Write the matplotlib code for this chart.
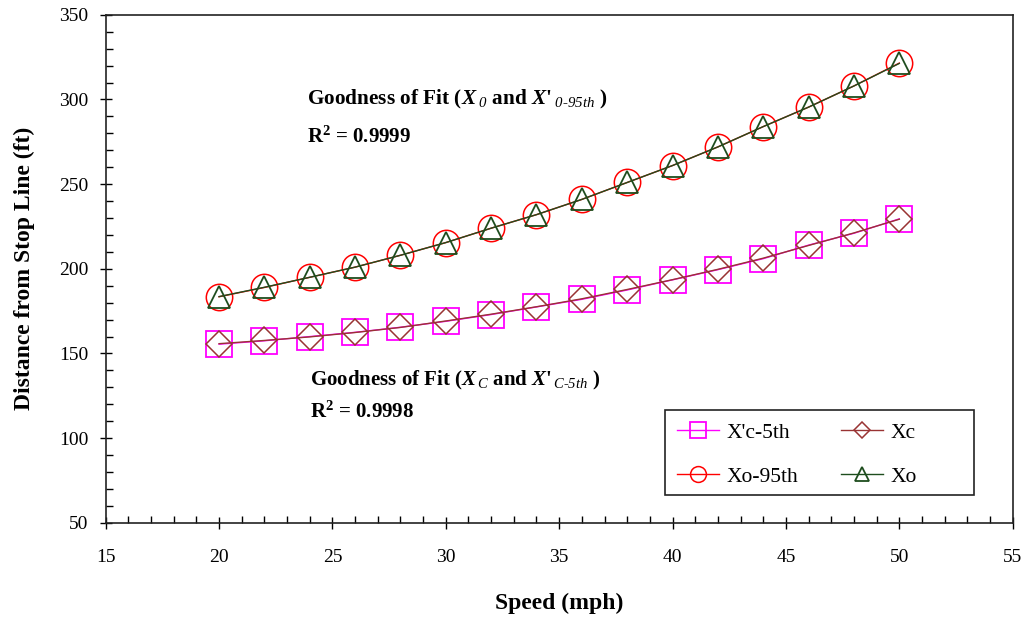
import matplotlib
matplotlib.use('Agg')
import matplotlib.pyplot as plt
from matplotlib.patches import Rectangle
from matplotlib.ticker import MultipleLocator

plt.rcParams['font.family'] = ['Liberation Serif', 'DejaVu Serif']
plt.rcParams['mathtext.fontset'] = 'custom'
plt.rcParams['mathtext.rm'] = 'Liberation Serif:bold'
plt.rcParams['mathtext.it'] = 'Liberation Serif:italic:bold'
plt.rcParams['mathtext.bf'] = 'Liberation Serif:bold'
plt.rcParams['mathtext.sf'] = 'Liberation Serif:italic'

speed = [20, 22, 24, 26, 28, 30, 32, 34, 36, 38, 40, 42, 44, 46, 48, 50]

xc_5th = [155.5, 157.5, 160, 162.5, 165.5, 169, 173, 177.5, 182, 187.5, 193.5, 199.5, 206, 214, 221, 229.5]
xc = [155.8, 157.7, 159.8, 162.4, 165.4, 169.2, 173.2, 177.6, 182.3, 187.8, 193.6, 199.7, 206.3, 213.8, 221.2, 229.3]
xo_95th = [183.5, 189, 195, 201, 208, 215.5, 224, 232, 241, 251, 261, 272, 284, 295.5, 308, 321.5]
xo = [183.6, 189.1, 195, 201, 208, 215.5, 224, 232, 241, 251, 261, 272, 284, 295.5, 308, 321.3]

fig = plt.figure(figsize=(10.26, 6.18), dpi=100)
ax = fig.add_axes([0.103, 0.154, 0.884, 0.822])

ax.plot(speed, xc_5th, color='#FF00FF', lw=1, marker='s', ms=19, mfc='none', mec='#FF00FF', mew=1.3, label="X'c-5th")
ax.plot(speed, xo_95th, color='#FF0000', lw=1, marker='o', ms=19, mfc='none', mec='#FF0000', mew=1.1, label='Xo-95th')
ax.plot(speed, xc, color='#993333', lw=1, marker='D', ms=13, mfc='none', mec='#993333', mew=1.1, label='Xc')
ax.plot(speed, xo, color='#1E4D1E', lw=1, marker='^', ms=16, mfc='none', mec='#1E4D1E', mew=1.3, label='Xo')

ax.set_xlim(15, 55)
ax.set_ylim(50, 350)
ax.xaxis.set_major_locator(MultipleLocator(5))
ax.xaxis.set_minor_locator(MultipleLocator(1))
ax.yaxis.set_major_locator(MultipleLocator(50))
ax.yaxis.set_minor_locator(MultipleLocator(10))
ax.tick_params(which='major', direction='inout', length=9, width=1, labelsize=14)
ax.tick_params(which='minor', direction='in', length=5, width=1)
ax.tick_params(axis='x', which='major', pad=14)
ax.tick_params(axis='y', which='major', pad=8)
for s in ax.spines.values():
    s.set_linewidth(1.2)
    s.set_color('#222222')

ax.set_xlabel('Speed (mph)', fontsize=17, fontweight='bold', labelpad=20)
ax.set_ylabel('Distance from Stop Line (ft)', fontsize=17, fontweight='bold', labelpad=17)

ax.text(23.9, 300, r"Goodness of Fit ($X_{\;\mathsf{0}}$ and $X$'$_{\;\mathsf{0\text{-}95th}}$ )",
        fontsize=15.3, fontweight='bold', va='center')
ax.text(23.9, 278, r"R$^{\mathbf{2}}$ = 0.9999", fontsize=15, fontweight='bold', va='center')
ax.text(24.0, 134, r"Goodness of Fit ($X_{\,\mathsf{C}}$ and $X$'$_{\,\mathsf{C\text{-}5th}}$ )",
        fontsize=15, fontweight='bold', va='center')
ax.text(24.0, 115.5, r"R$^{\mathbf{2}}$ = 0.9998", fontsize=15, fontweight='bold', va='center')

# legend box (Excel style, equal column widths)
ax.add_patch(Rectangle((0.617, 0.055), 0.340, 0.167, transform=ax.transAxes,
                       facecolor='white', edgecolor='#222222', lw=1.2, zorder=4))
leg = ax.legend(ncol=2, loc='center', bbox_to_anchor=(0.762, 0.134), frameon=False,
                fontsize=15.5, labelspacing=1.1, columnspacing=2.0, handlelength=1.95,
                handletextpad=0.33, markerscale=0.6)
leg.set_zorder(5)

fig.savefig('out.png', dpi=100)
